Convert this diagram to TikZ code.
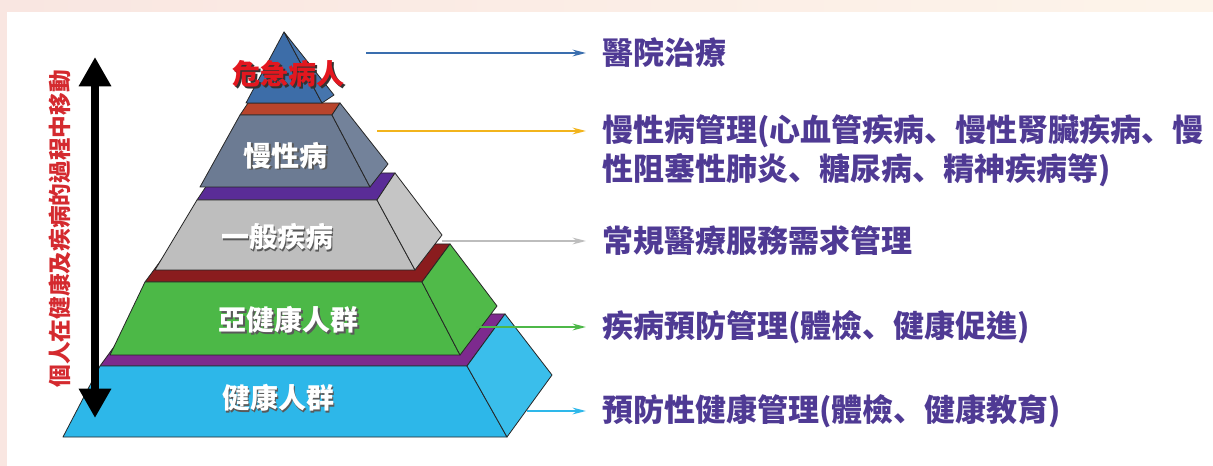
\documentclass[tikz,border=0pt]{standalone}
\usepackage{fontspec}
\newfontfamily\cjk{Noto Sans CJK TC}
\newfontfamily\cjksc{Noto Sans CJK SC}
\newcommand{\dun}{{\cjksc 、}}
\usetikzlibrary{arrows.meta}
\definecolor{peachL}{HTML}{F9E6E1}
\definecolor{peachR}{HTML}{FDF4EA}
\definecolor{tribl}{HTML}{3D6DA8}
\definecolor{tribls}{HTML}{4675AD}
\definecolor{redband}{HTML}{B8442C}
\definecolor{slate}{HTML}{6C7B93}
\definecolor{slates}{HTML}{73829A}
\definecolor{purpA}{HTML}{5A2C97}
\definecolor{grayf}{HTML}{BEBEBE}
\definecolor{grays}{HTML}{C5C5C5}
\definecolor{darkred}{HTML}{8A1C1E}
\definecolor{greenf}{HTML}{4CB847}
\definecolor{greens}{HTML}{50BA49}
\definecolor{purpB}{HTML}{7D2A8E}
\definecolor{cyanf}{HTML}{2DB7E9}
\definecolor{cyans}{HTML}{3ABEEB}
\definecolor{labtxt}{HTML}{4F3A94}
\definecolor{vred}{HTML}{D42A2F}
\definecolor{hotred}{HTML}{E3171F}
\definecolor{arrblue}{HTML}{3A6EAE}
\definecolor{arryel}{HTML}{F2B41C}
\definecolor{arrgray}{HTML}{BDBDBD}
\definecolor{arrgreen}{HTML}{4DB848}
\definecolor{arrcyan}{HTML}{2EB8EA}
\begin{document}
\begin{tikzpicture}[x=0.75pt,y=-0.75pt,
  face/.style={draw=black!85, line width=0.6pt, line join=round},
  lvltext/.style={font=\cjk\bfseries\fontsize{21}{21}\selectfont, text=white, inner sep=0pt},
  lvlshadow/.style={font=\cjk\bfseries\fontsize{21}{21}\selectfont, text=black!65, inner sep=0pt},
  lab/.style={font=\cjk\bfseries\fontsize{23.25}{23.25}\selectfont, text=labtxt, anchor=west, inner sep=0pt},
  conn/.style={line width=1.5pt, -{Stealth[length=10pt,width=5pt]}, shorten >=12pt},
]
\useasboundingbox (0,0) rectangle (1213,466);
% background
\shade[left color=peachL, right color=peachR] (0,0) rectangle (1213,12);
\fill[peachL] (0,0) rectangle (7,466);
\fill[white] (7,12) rectangle (1213,466);

% ---- bottom slab (blue) ----
\filldraw[face, fill=purpB] (100,366) -- (467,366) -- (505,314) -- (138,314) -- cycle;
\filldraw[face, fill=cyanf] (63,437) -- (507,437) -- (467,366) -- (100,366) -- cycle;
\filldraw[face, fill=cyans] (467,366) -- (505,314) -- (552,375) -- (507,437) -- cycle;
% ---- green slab ----
\filldraw[face, fill=darkred] (145,282) -- (422,282) -- (450,244) -- (173,244) -- cycle;
\filldraw[face, fill=greenf] (110,355) -- (460,355) -- (422,282) -- (145,282) -- cycle;
\filldraw[face, fill=greens] (422,282) -- (450,244) -- (497,306) -- (460,355) -- cycle;
% ---- gray slab ----
\filldraw[face, fill=purpA] (197,200) -- (377,200) -- (395,173) -- (215,173) -- cycle;
\filldraw[face, fill=grayf] (155,270) -- (415,270) -- (377,200) -- (197,200) -- cycle;
\filldraw[face, fill=grays] (377,200) -- (395,173) -- (442,235) -- (415,270) -- cycle;
% ---- slate slab ----
\filldraw[face, fill=redband] (240,115) -- (332,115) -- (340,103) -- (248,103) -- cycle;
\filldraw[face, fill=slate] (200,187) -- (370,187) -- (332,115) -- (240,115) -- cycle;
\filldraw[face, fill=slates] (332,115) -- (340,103) -- (388,164) -- (370,187) -- cycle;
% ---- top triangle ----
\filldraw[face, fill=tribl] (246,103) -- (322,103) -- (284,32) -- cycle;
\filldraw[face, fill=tribls] (322,103) -- (284,32) -- (334,95) -- cycle;

% ---- pyramid texts ----
\node[lvlshadow, text=black!80] (t0s) at (290.5,75.5) {危急病人};
\node[lvltext, text=hotred] (t0) at (288.5,73.5) {危急病人};
\node[lvlshadow] (t1s) at (287,157) {慢性病};
\node[lvltext] (t1) at (285.5,155.5) {慢性病};
\node[lvlshadow] (t2s) at (278.5,238.5) {一般疾病};
\node[lvltext] (t2) at (277,237) {一般疾病};
\node[lvlshadow] (t3s) at (290,321.5) {亞健康人群};
\node[lvltext] (t3) at (288.5,320) {亞健康人群};
\node[lvlshadow] (t4s) at (279.5,399.5) {健康人群};
\node[lvltext] (t4) at (278,398) {健康人群};

% ---- labels ----
\node[lab] (l1) at (602,53) {醫院治療};
\node[lab] (l2a) at (602,131) {慢性病管理(心血管疾病\dun 慢性腎臟疾病\dun 慢};
\node[lab] (l2b) at (602,170) {性阻塞性肺炎\dun 糖尿病\dun 精神疾病等)};
\node[lab] (l3) at (602,241) {常規醫療服務需求管理};
\node[lab] (l4) at (602,327) {疾病預防管理(體檢\dun 健康促進)};
\node[lab] (l5) at (602,411) {預防性健康管理(體檢\dun 健康教育)};

% ---- connectors ----
\coordinate (s1) at (366,53);
\coordinate (s2) at (377,131);
\coordinate (s3) at (442,241);
\coordinate (s4) at (476,327);
\coordinate (s5) at (527,411);
\draw[conn, arrblue] (s1) -- (l1.west);
\draw[conn, arryel] (s2) -- (l2a.west);
\draw[conn, arrgray] (s3) -- (l3.west);
\draw[conn, arrgreen] (s4) -- (l4.west);
\draw[conn, arrcyan] (s5) -- (l5.west);

% ---- vertical arrow and text ----
\coordinate (vtop) at (95,57);
\coordinate (vbot) at (95,418);
\draw[line width=5.5pt, {Triangle[length=22pt,width=23pt]}-{Triangle[length=22pt,width=23pt]}] (vtop) -- (vbot);
\node[rotate=90, font=\cjk\bfseries\fontsize{17}{17}\selectfont, text=vred, inner sep=0pt] (vt) at (60,229) {個人在健康及疾病的過程中移動};
\end{tikzpicture}
\end{document}
